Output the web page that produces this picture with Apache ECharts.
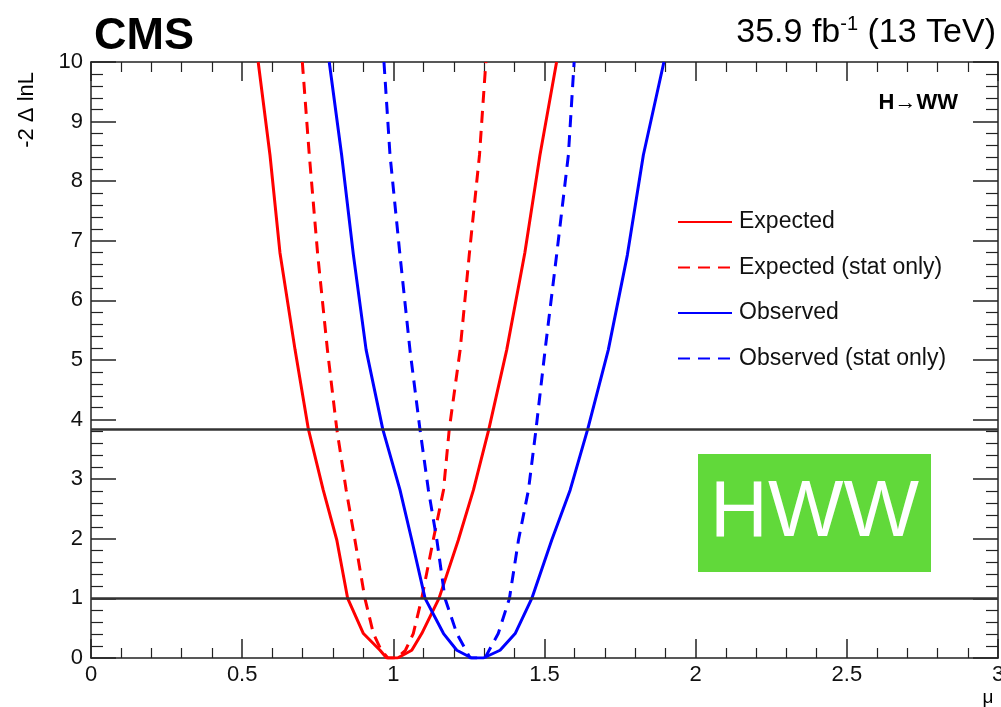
<!DOCTYPE html>
<html>
<head>
<meta charset="utf-8">
<script src="https://cdn.jsdelivr.net/npm/echarts@6/dist/echarts.min.js"></script>
<style>
  html, body { margin: 0; padding: 0; background: #fff; overflow: hidden; }
  #chart { width: 1001px; height: 707px; }
</style>
</head>
<body>
<div id="chart"></div>
<script>
// 曲线数据 [mu, -2ΔlnL]
const expected = [
  [0.553, 10], [0.592, 8.44], [0.625, 6.8], [0.675, 5.17], [0.719, 3.84],
  [0.768, 2.82], [0.813, 1.98], [0.849, 1.0], [0.901, 0.41], [0.956, 0.13],
  [0.978, 0], [1.014, 0], [1.061, 0.13], [1.094, 0.41], [1.151, 1.0],
  [1.215, 1.98], [1.265, 2.82], [1.316, 3.84], [1.375, 5.17], [1.435, 6.8],
  [1.485, 8.44], [1.540, 10]
];
const expectedStat = [
  [0.699, 10], [0.722, 8.44], [0.750, 6.76], [0.782, 5.17], [0.813, 3.84],
  [0.844, 2.82], [0.873, 1.98], [0.906, 1.0], [0.934, 0.41], [0.960, 0.13],
  [0.982, 0], [1.011, 0], [1.040, 0.13], [1.066, 0.41], [1.094, 1.0],
  [1.132, 1.98], [1.166, 2.82], [1.185, 3.84], [1.221, 5.17], [1.251, 6.76],
  [1.285, 8.44], [1.306, 10]
];
const observed = [
  [0.788, 10], [0.829, 8.44], [0.868, 6.76], [0.910, 5.17], [0.965, 3.84],
  [1.022, 2.82], [1.061, 1.98], [1.105, 1.0], [1.166, 0.41], [1.210, 0.13],
  [1.259, 0], [1.298, 0], [1.353, 0.13], [1.403, 0.41], [1.458, 1.0],
  [1.524, 1.98], [1.585, 2.82], [1.643, 3.84], [1.711, 5.17], [1.774, 6.76],
  [1.827, 8.44], [1.895, 10]
];
const observedStat = [
  [0.969, 10], [0.989, 8.44], [1.022, 6.76], [1.055, 5.17], [1.088, 3.84],
  [1.116, 2.82], [1.144, 1.98], [1.171, 1.0], [1.210, 0.41], [1.254, 0],
  [1.303, 0], [1.347, 0.41], [1.384, 1.0], [1.414, 1.98], [1.447, 2.82],
  [1.472, 3.84], [1.502, 5.17], [1.540, 6.76], [1.579, 8.44], [1.598, 10]
];
const seriesNames = ['Expected', 'Expected (stat only)', 'Observed', 'Observed (stat only)'];
// 1σ 和 95% CL 参考线
const refLevels = [1, 3.84];

const FONT = '"Liberation Sans", Arial, Helvetica, sans-serif';
const AXIS_COLOR = '#222';

const chart = echarts.init(document.getElementById('chart'), null, { renderer: 'canvas' });

const xAxisBase = {
  type: 'value', min: 0, max: 3, interval: 0.5,
  axisLine: { onZero: false, lineStyle: { color: AXIS_COLOR, width: 1.5 } },
  axisTick: { inside: true, length: 19, lineStyle: { color: AXIS_COLOR, width: 1.5 } },
  minorTick: { show: true, splitNumber: 5, length: 10, lineStyle: { color: AXIS_COLOR, width: 1.2 } },
  splitLine: { show: false }
};
const yAxisBase = {
  type: 'value', min: 0, max: 10, interval: 1,
  axisLine: { onZero: false, lineStyle: { color: AXIS_COLOR, width: 1.5 } },
  axisTick: { inside: true, length: 25, lineStyle: { color: AXIS_COLOR, width: 1.5 } },
  minorTick: { show: true, splitNumber: 5, length: 12, lineStyle: { color: AXIS_COLOR, width: 1.2 } },
  splitLine: { show: false }
};

function curve(name, data, color, dashed) {
  return {
    name: name,
    type: 'line',
    data: data,
    symbol: 'none',
    showSymbol: false,
    smooth: false,
    animation: false,
    z: 3,
    lineStyle: { color: color, width: 3, type: dashed ? [12, 8] : 'solid' },
    itemStyle: { color: color }
  };
}

chart.setOption({
  backgroundColor: '#fff',
  animation: false,
  grid: { left: 91, right: 3, top: 62, bottom: 49, containLabel: false, outerBoundsMode: 'none' },
  legend: {
    orient: 'vertical',
    left: 672,
    top: 205,
    itemWidth: 54,
    itemHeight: 14,
    itemGap: 21.5,
    data: seriesNames,
    itemStyle: { opacity: 0 },
    textStyle: { fontFamily: FONT, fontSize: 23, color: '#111', padding: [0, 0, 0, 2], lineHeight: 24 }
  },
  xAxis: [
    Object.assign({}, xAxisBase, {
      position: 'bottom',
      axisLabel: { fontFamily: FONT, fontSize: 22, color: '#111', margin: 6,
        formatter: v => String(v) }
    }),
    Object.assign({}, xAxisBase, { position: 'top', axisLabel: { show: false } })
  ],
  yAxis: [
    Object.assign({}, yAxisBase, {
      position: 'left',
      axisLabel: { fontFamily: FONT, fontSize: 22, color: '#111', margin: 8 }
    }),
    Object.assign({}, yAxisBase, { position: 'right', axisLabel: { show: false } })
  ],
  series: [
    {
      name: 'ref',
      type: 'line',
      data: [],
      silent: true,
      z: 2,
      markLine: {
        silent: true,
        symbol: ['none', 'none'],
        animation: false,
        label: { show: false },
        lineStyle: { color: '#333', width: 2.5, type: 'solid' },
        data: refLevels.map(v => ({ yAxis: v }))
      }
    },
    curve(seriesNames[0], expected, '#ff0000', false),
    curve(seriesNames[1], expectedStat, '#ff0000', true),
    curve(seriesNames[2], observed, '#0000ff', false),
    curve(seriesNames[3], observedStat, '#0000ff', true)
  ],
  graphic: [
    {
      type: 'text', left: 94, top: 14,
      style: { text: 'CMS', font: 'bold 45px ' + FONT, fill: '#000' }
    },
    {
      type: 'text', right: 5, top: 14,
      style: {
        text: '{a|35.9 fb}{s|-1}{a| (13 TeV)}',
        fill: '#000',
        rich: {
          a: { fontFamily: FONT, fontSize: 34, lineHeight: 38, fill: '#000' },
          s: { fontFamily: FONT, fontSize: 20, lineHeight: 38, verticalAlign: 'top', fill: '#000' }
        }
      }
    },
    {
      type: 'text', x: 958, y: 103,
      style: { text: 'H\u2192WW', font: 'bold 22px ' + FONT, fill: '#000', align: 'right', verticalAlign: 'middle' }
    },
    {
      type: 'text', x: 27, y: 72, rotation: Math.PI / 2,
      style: { text: '-2 \u0394 lnL', font: '22px ' + FONT, fill: '#000', align: 'right', verticalAlign: 'middle' }
    },
    {
      type: 'text', x: 988, y: 698,
      style: { text: '\u03bc', font: '19px ' + FONT, fill: '#000', align: 'center', verticalAlign: 'middle' }
    },
    {
      type: 'group', left: 698, top: 454,
      children: [
        { type: 'rect', shape: { x: 0, y: 0, width: 233, height: 118 }, style: { fill: '#61d93a' } },
        {
          type: 'text', x: 116.5, y: 60,
          style: { text: 'HWW', font: '80px ' + FONT, fill: '#fff', align: 'center', verticalAlign: 'middle' }
        }
      ]
    }
  ]
});
</script>
</body>
</html>
